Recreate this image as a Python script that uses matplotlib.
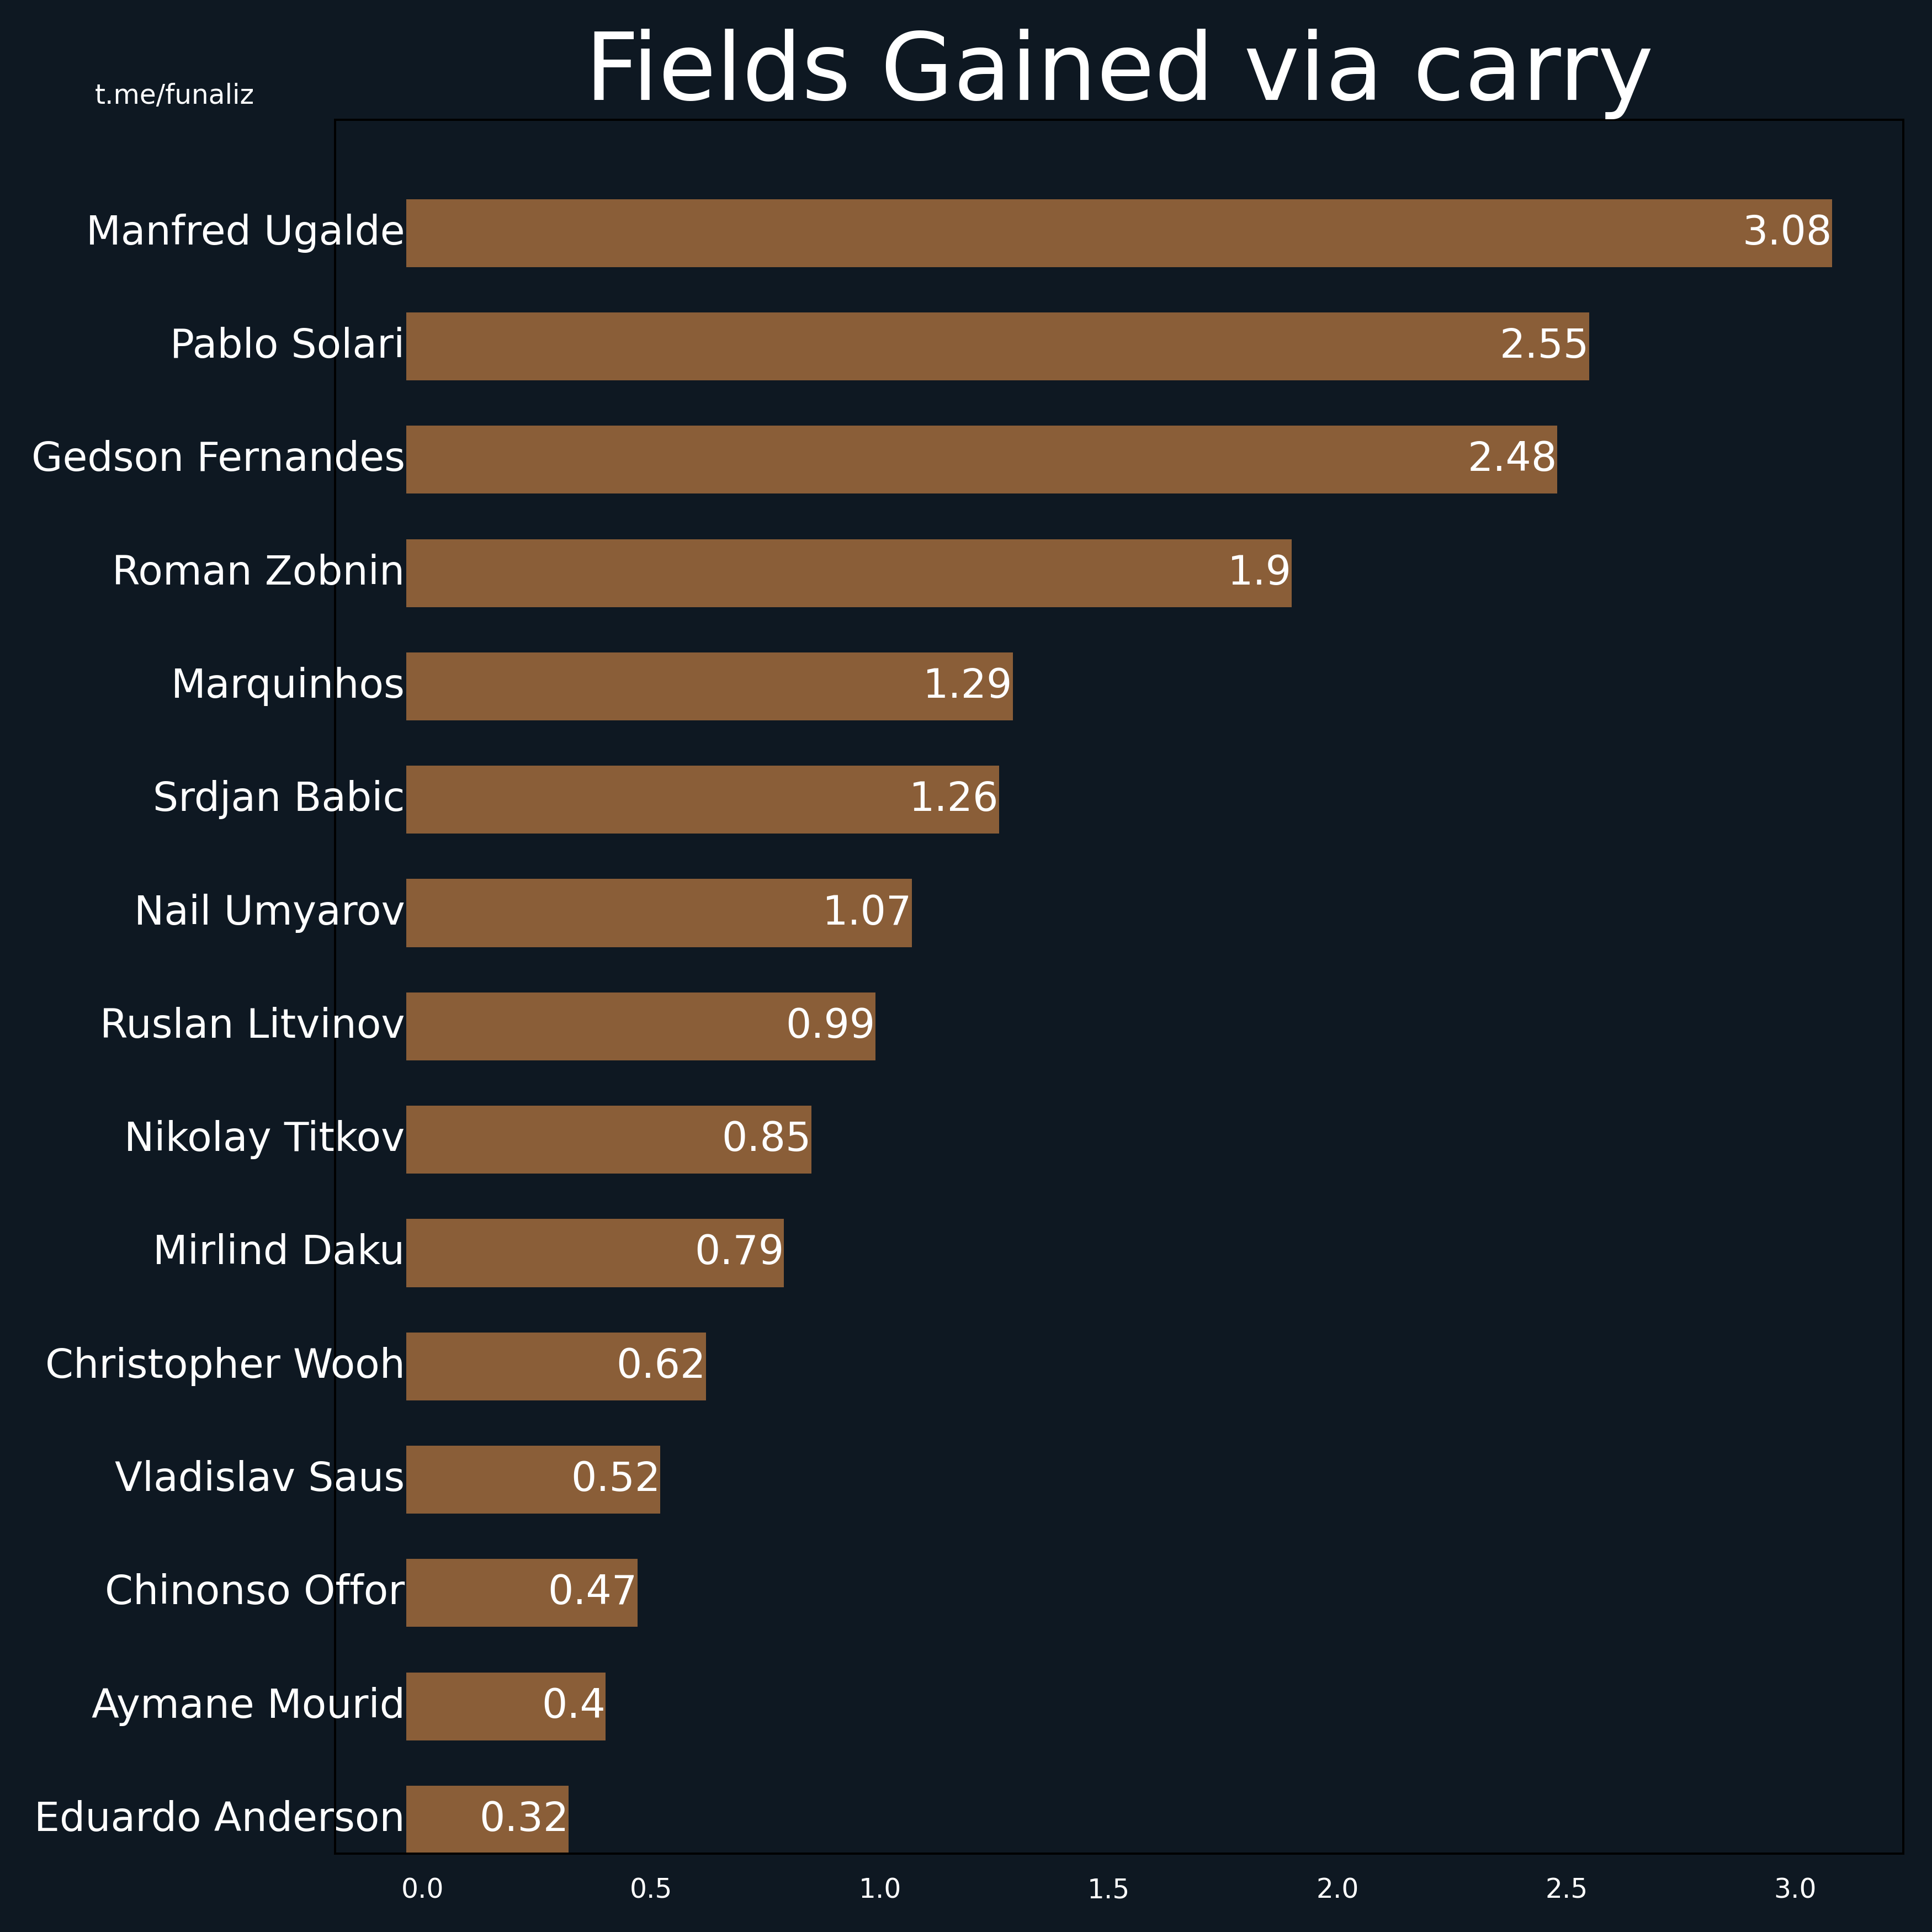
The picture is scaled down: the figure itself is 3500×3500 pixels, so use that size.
import matplotlib
matplotlib.use("Agg")
import matplotlib.pyplot as plt
import numpy as np

players = ["Manfred Ugalde", "Pablo Solari", "Gedson Fernandes", "Roman Zobnin",
           "Marquinhos", "Srdjan Babic", "Nail Umyarov", "Ruslan Litvinov",
           "Nikolay Titkov", "Mirlind Daku", "Christopher Wooh", "Vladislav Saus",
           "Chinonso Offor", "Aymane Mourid", "Eduardo Anderson"]
values = [3.08, 2.55, 2.48, 1.9, 1.29, 1.26, 1.07, 0.99, 0.85, 0.79,
          0.62, 0.52, 0.47, 0.4, 0.32]
xticks = [0.0, 0.5, 1.0, 1.5, 2.0, 2.5, 3.0]

BG = "#0e1822"
BAR = "#8a5e38"
START = -0.035

fig = plt.figure(figsize=(10, 10), dpi=350, facecolor=BG)
ax = fig.add_axes([0.17343, 0.04057, 0.98514 - 0.17343, 0.938 - 0.04057])
ax.set_facecolor(BG)

n = len(players)
ypos = np.arange(n)[::-1]
vals = np.array(values)
ax.barh(ypos, vals - START, left=START, height=0.6, color=BAR)

for y, name, v in zip(ypos, players, values):
    ax.text(-0.038, y, name, ha="right", va="center", color="white", fontsize=15)
    ax.text(v, y, f"{v:g}", ha="right", va="center", color="white", fontsize=15)

ax.set_xlim(-0.1906, 3.236)
ax.set_ylim(-0.3, 15.0)
ax.set_yticks([])
ax.set_xticks(xticks)
ax.set_xticklabels([f"{t:.1f}" for t in xticks])
ax.tick_params(axis="x", length=0, pad=8.8, colors="white", labelsize=10)
for s in ax.spines.values():
    s.set_color("black")
    s.set_linewidth(0.8)

ax.set_title("Fields Gained via carry", color="white", fontsize=35, pad=7.5)
fig.text(0.049, 1 - 188 / 3500, "t.me/funaliz", color="white", fontsize=10,
         ha="left", va="baseline")

fig.savefig("out.png", dpi=350, facecolor=BG)
